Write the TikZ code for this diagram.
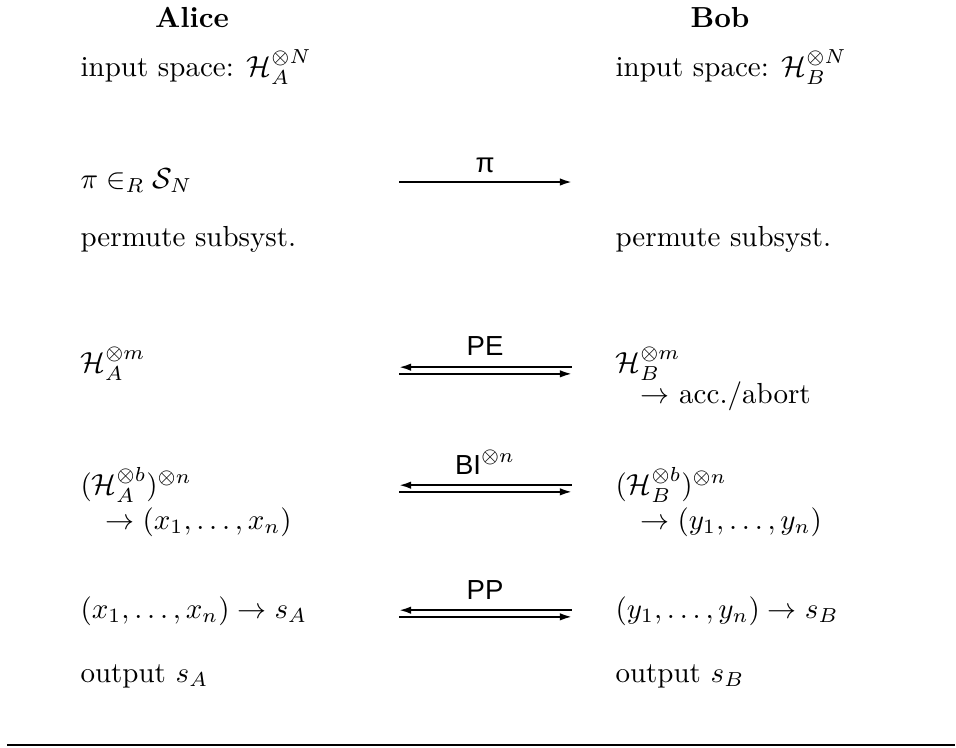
\documentclass[tikz,border=0pt]{standalone}
\usepackage{fontspec}
\newfontfamily\labfont{Liberation Sans}
\usetikzlibrary{arrows.meta}
\begin{document}
\begin{tikzpicture}[x=0.3448pt,y=-0.3448pt,
  txt/.style={anchor=base west,inner sep=0pt},
  head/.style={anchor=base,inner sep=0pt,font=\bfseries},
  lab/.style={anchor=base,inner sep=0pt,font=\labfont\fontsize{9.5}{11}\selectfont},
  msg/.style={line width=0.7pt},
  tipR/.style={-{Latex[length=4.2pt,width=2.6pt]}},
  tipL/.style={{Latex[length=4.2pt,width=2.6pt]}-}]
\useasboundingbox (0,0) rectangle (956,747);
% headings
\node[head] (alice) at (192,27) {Alice};
\node[head] (bob) at (720,27) {Bob};
% left column
\node[txt] (a1) at (80,76) {input space: $\mathcal{H}_A^{\otimes N}$};
\node[txt] (a2) at (80,188) {$\pi \in_R \mathcal{S}_N$};
\node[txt] (a3) at (80,246) {permute subsyst.};
\node[txt] (a4) at (80,372) {$\mathcal{H}_A^{\otimes m}$};
\node[txt] (a5) at (80,494) {$(\mathcal{H}_A^{\otimes b})^{\otimes n}$};
\node[txt] (a6) at (105,529) {$\rightarrow (x_1, \ldots, x_n)$};
\node[txt] (a7) at (80,618) {$(x_1, \ldots, x_n) \rightarrow s_A$};
\node[txt] (a8) at (80,682) {output $s_A$};
% right column
\node[txt] (b1) at (615,76) {input space: $\mathcal{H}_B^{\otimes N}$};
\node[txt] (b3) at (615,246) {permute subsyst.};
\node[txt] (b4) at (615,372) {$\mathcal{H}_B^{\otimes m}$};
\node[txt] (b4a) at (640,403) {$\rightarrow$ acc./abort};
\node[txt] (b5) at (615,494) {$(\mathcal{H}_B^{\otimes b})^{\otimes n}$};
\node[txt] (b6) at (640,529) {$\rightarrow (y_1, \ldots, y_n)$};
\node[txt] (b7) at (615,618) {$(y_1, \ldots, y_n) \rightarrow s_B$};
\node[txt] (b8) at (615,682) {output $s_B$};
% message coordinates
\coordinate (piL) at (399,182); \coordinate (piR) at (572,182);
\coordinate (peL) at (399,370.5); \coordinate (peR) at (572,370.5);
\coordinate (biL) at (399,488.5); \coordinate (biR) at (572,488.5);
\coordinate (ppL) at (399,613.5); \coordinate (ppR) at (572,613.5);
% messages
\draw[msg,tipR] (piL) -- (piR);
\node[lab] (lpi) at (485,172) {π};
\node[lab] (lpe) at (485,355) {PE};
\node[lab] (lbi) at (485,474) {BI$^{\otimes n}$};
\node[lab] (lpp) at (485,599) {PP};
\draw[msg,tipL] ([yshift=1.15pt]peL) -- ([yshift=1.15pt]peR);
\draw[msg,tipR] ([yshift=-1.15pt]peL) -- ([yshift=-1.15pt]peR);
\draw[msg,tipL] ([yshift=1.15pt]biL) -- ([yshift=1.15pt]biR);
\draw[msg,tipR] ([yshift=-1.15pt]biL) -- ([yshift=-1.15pt]biR);
\draw[msg,tipL] ([yshift=1.15pt]ppL) -- ([yshift=1.15pt]ppR);
\draw[msg,tipR] ([yshift=-1.15pt]ppL) -- ([yshift=-1.15pt]ppR);
% bottom rule
\coordinate (ruleL) at (7,745); \coordinate (ruleR) at (955,745);
\draw[line width=0.5pt] (ruleL) -- (ruleR);
\end{tikzpicture}
\end{document}
